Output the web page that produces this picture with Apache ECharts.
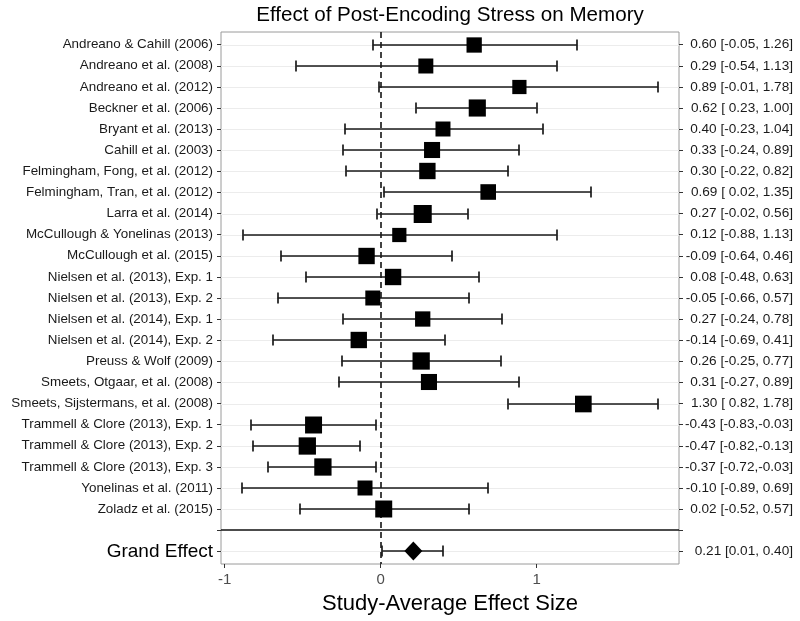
<!DOCTYPE html>
<html>
<head>
<meta charset="utf-8">
<script src="https://cdn.jsdelivr.net/npm/echarts@6/dist/echarts.min.js"></script>
<style>
html,body{margin:0;padding:0;background:#fff;}
#chart{width:800px;height:621px;}
</style>
</head>
<body>
<div id="chart"></div>
<script>
var studies = [
  "Andreano & Cahill (2006)",
  "Andreano et al. (2008)",
  "Andreano et al. (2012)",
  "Beckner et al. (2006)",
  "Bryant et al. (2013)",
  "Cahill et al. (2003)",
  "Felmingham, Fong, et al. (2012)",
  "Felmingham, Tran, et al. (2012)",
  "Larra et al. (2014)",
  "McCullough & Yonelinas (2013)",
  "McCullough et al. (2015)",
  "Nielsen et al. (2013), Exp. 1",
  "Nielsen et al. (2013), Exp. 2",
  "Nielsen et al. (2014), Exp. 1",
  "Nielsen et al. (2014), Exp. 2",
  "Preuss & Wolf (2009)",
  "Smeets, Otgaar, et al. (2008)",
  "Smeets, Sijstermans, et al. (2008)",
  "Trammell & Clore (2013), Exp. 1",
  "Trammell & Clore (2013), Exp. 2",
  "Trammell & Clore (2013), Exp. 3",
  "Yonelinas et al. (2011)",
  "Zoladz et al. (2015)"
];
var estimates = [0.60, 0.29, 0.89, 0.62, 0.40, 0.33, 0.30, 0.69, 0.27, 0.12, -0.09, 0.08, -0.05, 0.27, -0.14, 0.26, 0.31, 1.30, -0.43, -0.47, -0.37, -0.10, 0.02];
var lower = [-0.05, -0.54, -0.01, 0.23, -0.23, -0.24, -0.22, 0.02, -0.02, -0.88, -0.64, -0.48, -0.66, -0.24, -0.69, -0.25, -0.27, 0.82, -0.83, -0.82, -0.72, -0.89, -0.52];
var upper = [1.26, 1.13, 1.78, 1.00, 1.04, 0.89, 0.82, 1.35, 0.56, 1.13, 0.46, 0.63, 0.57, 0.78, 0.41, 0.77, 0.89, 1.78, -0.03, -0.13, -0.03, 0.69, 0.57];
// relative study weights (marker area scaling)
var weights = [1.00, 0.98, 0.93, 1.12, 0.98, 1.05, 1.07, 1.02, 1.18, 0.93, 1.07, 1.07, 0.98, 1.00, 1.07, 1.13, 1.05, 1.09, 1.11, 1.13, 1.13, 0.98, 1.11];
var grandLabel = "Grand Effect";
var grandEstimate = 0.21;
var grandLower = 0.01;
var grandUpper = 0.40;
var xTicks = [-1, 0, 1];

function fmt(v){ return (v < 0 ? "" : " ") + v.toFixed(2); }
var rightLabels = studies.map(function(s, i){
  var hiStr = upper[i] < 0 ? upper[i].toFixed(2) : " " + upper[i].toFixed(2);
  return estimates[i].toFixed(2) + " [" + fmt(lower[i]) + "," + hiStr + "]";
});
var grandRight = grandEstimate.toFixed(2) + " [" + grandLower.toFixed(2) + ", " + grandUpper.toFixed(2) + "]";

var sepIndex = studies.length;       // blank row holding the separator
var grandIndex = studies.length + 1; // grand effect row
var leftNames = studies.concat(["", grandLabel]);
var rightNames = rightLabels.concat(["", grandRight]);
var rowValues = leftNames.map(function(_, i){ return i; });

// x-range with 5% expansion like the original plotting system
var dataMin = Math.min.apply(null, lower.concat([grandLower]));
var dataMax = Math.max.apply(null, upper.concat([grandUpper]));
var span = dataMax - dataMin;
var xMin = dataMin - 0.05 * span;
var xMax = dataMax + 0.05 * span;

var studyData = studies.map(function(s, i){ return [i, estimates[i], lower[i], upper[i], weights[i]]; });
var gridRowData = rowValues.map(function(i){ return [i]; });

var FONT = "'Liberation Sans', Arial, Helvetica, sans-serif";
var chart = echarts.init(document.getElementById('chart'), null, {renderer: 'canvas'});

function snap(v){ return Math.round(v); }

function errorBar(api, row, lo, hi){
  var pl = api.coord([lo, row]);
  var ph = api.coord([hi, row]);
  var y = snap(pl[1]);
  var cap = 5.5;
  var ls = {stroke: '#1a1a1a', lineWidth: 1.7};
  return [
    {type: 'line', shape: {x1: pl[0], y1: y, x2: ph[0], y2: y}, style: ls},
    {type: 'line', shape: {x1: snap(pl[0]), y1: y - cap, x2: snap(pl[0]), y2: y + cap}, style: ls},
    {type: 'line', shape: {x1: snap(ph[0]), y1: y - cap, x2: snap(ph[0]), y2: y + cap}, style: ls}
  ];
}

var option = {
  animation: false,
  backgroundColor: '#ffffff',
  title: {
    text: 'Effect of Post-Encoding Stress on Memory',
    left: 450,
    textAlign: 'center',
    top: 5,
    padding: 0,
    textStyle: {fontFamily: FONT, fontSize: 20.6, fontWeight: 'normal', color: '#000'}
  },
  grid: {
    left: 221, right: 121, top: 32, bottom: 57,
    show: true, borderColor: '#9a9a9a', borderWidth: 1, backgroundColor: '#fff'
  },
  xAxis: {
    type: 'value',
    min: xMin, max: xMax,
    axisLine: {show: false, onZero: false},
    splitLine: {show: false},
    axisTick: {show: true, length: 4, customValues: xTicks, lineStyle: {color: '#333', width: 1}},
    axisLabel: {customValues: xTicks, fontFamily: FONT, fontSize: 15, color: '#4d4d4d', margin: 8},
    name: 'Study-Average Effect Size',
    nameLocation: 'middle',
    nameGap: 29,
    nameTextStyle: {fontFamily: FONT, fontSize: 22, color: '#000'}
  },
  yAxis: [{
    type: 'value',
    min: -0.6, max: grandIndex + 0.6,
    inverse: true,
    position: 'left',
    axisLine: {show: false, onZero: false},
    splitLine: {show: false},
    axisTick: {show: true, length: 4, customValues: rowValues, lineStyle: {color: '#333', width: 1}},
    axisLabel: {
      customValues: rowValues,
      margin: 8,
      formatter: function(v){
        var i = Math.round(v);
        var t = leftNames[i] || '';
        if (!t) return '';
        return i === grandIndex ? '{g|' + t + '}' : '{n|' + t + '}';
      },
      rich: {
        n: {fontFamily: FONT, fontSize: 13.4, color: '#1a1a1a'},
        g: {fontFamily: FONT, fontSize: 19, color: '#000'}
      },
      fontFamily: FONT, fontSize: 13.4, color: '#1a1a1a'
    }
  }, {
    type: 'value',
    min: -0.6, max: grandIndex + 0.6,
    inverse: true,
    position: 'right',
    axisLine: {show: false, onZero: false},
    splitLine: {show: false},
    axisTick: {show: true, length: 4, customValues: rowValues, lineStyle: {color: '#333', width: 1}},
    axisLabel: {
      customValues: rowValues,
      margin: 114,
      align: 'right',
      formatter: function(v){ return rightNames[Math.round(v)] || ''; },
      fontFamily: FONT, fontSize: 13.6, color: '#1a1a1a'
    }
  }],
  series: [{
    // faint horizontal grid lines at each row
    type: 'custom',
    z: 1,
    silent: true,
    data: gridRowData,
    encode: {y: 0},
    renderItem: function(params, api){
      var cs = params.coordSys;
      if (api.value(0) === sepIndex) return null;
      var p = api.coord([xMin, api.value(0)]);
      var y = snap(p[1]) + 0.5;
      return {type: 'line', shape: {x1: cs.x, y1: y, x2: cs.x + cs.width, y2: y},
              style: {stroke: '#ececec', lineWidth: 1}};
    }
  }, {
    // zero reference line and separator
    type: 'custom',
    z: 2,
    silent: true,
    data: [[0, sepIndex]],
    encode: {x: 0, y: 1},
    renderItem: function(params, api){
      var cs = params.coordSys;
      var p = api.coord([api.value(0), api.value(1)]);
      var x = snap(p[0]);
      var y = snap(p[1]);
      return {type: 'group', children: [
        {type: 'line', shape: {x1: x, y1: cs.y, x2: x, y2: cs.y + cs.height},
         style: {stroke: '#222', lineWidth: 1.7, lineDash: [6, 4]}},
        {type: 'line', shape: {x1: cs.x, y1: y, x2: cs.x + cs.width, y2: y},
         style: {stroke: '#111', lineWidth: 1.6}}
      ]};
    }
  }, {
    type: 'custom',
    z: 3,
    data: studyData,
    encode: {x: [1, 2, 3], y: 0},
    renderItem: function(params, api){
      var row = api.value(0);
      var pe = api.coord([api.value(1), row]);
      var s = 15.3 * api.value(4);
      var ch = errorBar(api, row, api.value(2), api.value(3));
      ch.push({type: 'rect', shape: {x: pe[0] - s / 2, y: snap(pe[1]) - s / 2, width: s, height: s}, style: {fill: '#000'}});
      return {type: 'group', children: ch};
    }
  }, {
    type: 'custom',
    z: 3,
    data: [[grandIndex, grandEstimate, grandLower, grandUpper]],
    encode: {x: [1, 2, 3], y: 0},
    renderItem: function(params, api){
      var row = api.value(0);
      var pe = api.coord([api.value(1), row]);
      var hw = 9, hh = 9.5;
      var cy = snap(pe[1]);
      var ch = errorBar(api, row, api.value(2), api.value(3));
      ch.push({type: 'polygon', shape: {points: [[pe[0] - hw, cy], [pe[0], cy - hh], [pe[0] + hw, cy], [pe[0], cy + hh]]}, style: {fill: '#000'}});
      return {type: 'group', children: ch};
    }
  }]
};
chart.setOption(option);
</script>
</body>
</html>
